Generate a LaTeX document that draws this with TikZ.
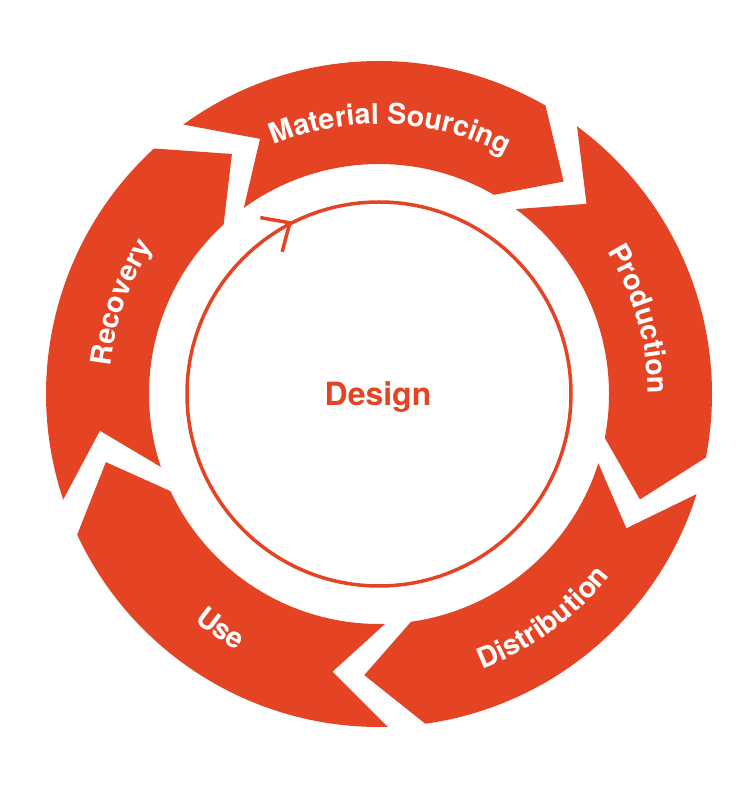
\documentclass[tikz,border=0pt]{standalone}
\usepackage{fontspec}
\setmainfont{TeX Gyre Heros}
\usetikzlibrary{decorations.text}
\definecolor{cored}{RGB}{228,68,36}
\newcommand\lblfont{\bfseries\fontsize{28.5}{28.5}\selectfont}
\newcommand\ringseg[2]{%
  \fill[seg] (#1:\Ro) arc[start angle=#1, end angle=#2, radius=\Ro]
    -- ({#2-\tipoff}:\Rm) -- (#2:\Ri)
    arc[start angle=#2, end angle=#1, radius=\Ri]
    -- ({#1-\tipoff}:\Rm) -- cycle;}
\newcommand\arclabel[4]{% text, start, end, radius
  \path[decorate, decoration={text along path, text={|\lblfont\color{white}|#1}, text align=center}]
    (#2:#4) arc[start angle=#2, end angle=#3, radius=#4];}
\begin{document}
\begin{tikzpicture}[x=1pt,y=1pt,
  seg/.style={fill=cored},
  thinring/.style={draw=cored, line width=3.5},
  centertext/.style={font=\bfseries\fontsize{32}{32}\selectfont, text=cored}]
\useasboundingbox (0,0) rectangle (742,788);
\begin{scope}[shift={(379,394)}]
\def\Ro{333}\def\Ri{230}\def\Rm{281.5}\def\tipoff{11}
% ring segments (tail angle, head angle), clockwise
\ringseg{126}{60}
\ringseg{53.5}{-11}
\ringseg{-17.5}{-82}
\ringseg{-88.5}{-155}
\ringseg{198.5}{132.5}
% labels
\arclabel{Material Sourcing}{127.5}{47.5}{270}
\arclabel{Production}{56}{-24}{269}
\arclabel{Recovery}{200.5}{120.5}{270}
\arclabel{Distribution}{-93.8}{-13.8}{294}
\arclabel{Use}{-164}{-84}{293}
% inner thin circle with arrow
\draw[thinring] (0,0) circle[radius=192];
\coordinate (tip) at (117.5:193);
\draw[thinring] (tip) ++(170:30) -- (tip) -- ++(255:30);
\node[centertext] (design) at (-1,-3) {Design};
\end{scope}
\end{tikzpicture}
\end{document}
